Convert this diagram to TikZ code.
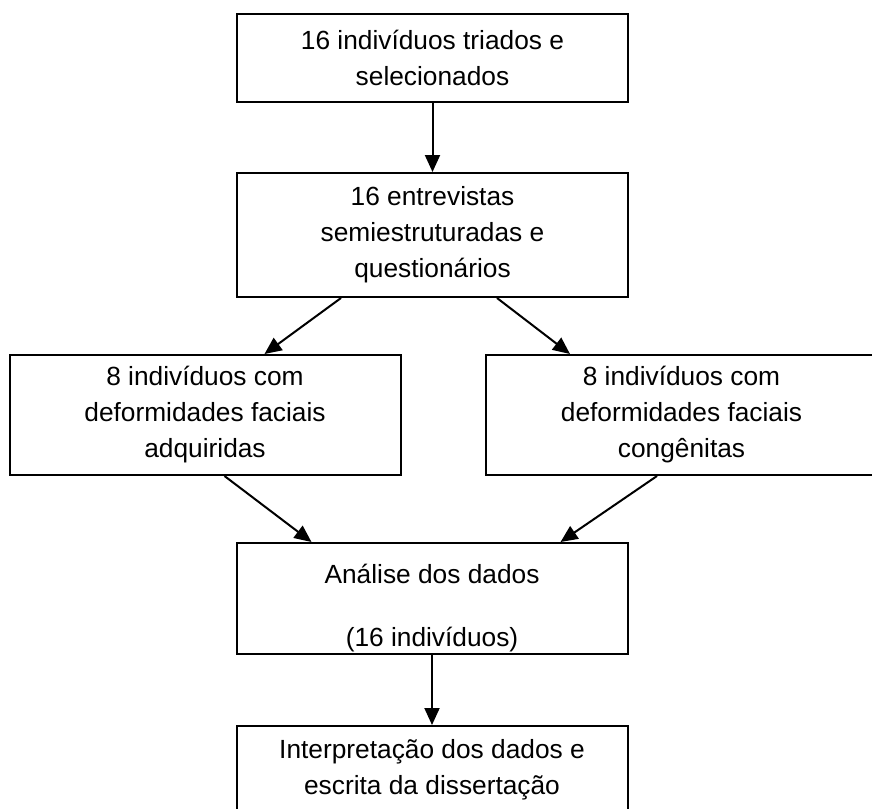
\documentclass[tikz,border=0pt]{standalone}
\usepackage{fontspec}
\setmainfont{Liberation Sans}
\usetikzlibrary{arrows.meta,calc}

\tikzset{%
  etapa/.style={
    rectangle,
    draw,
    line width=1pt,
    minimum width=195.5pt,
    align=center,
    font=\fontsize{13.15}{18}\selectfont
  },
  seta/.style={
    line width=1pt,
    -{Triangle[length=8.5pt,width=7.5pt]}
  },
}

\begin{document}
\begin{tikzpicture}[x=0.5pt,y=-0.5pt]
\useasboundingbox (0,0) rectangle (872,808);
\node[etapa,minimum height=44pt] (triagem) at (432.5,58) {16 indivíduos triados e\\selecionados};
\node[etapa,minimum height=62pt] (entrevistas) at (432.5,235) {16 entrevistas\\semiestruturadas e\\questionários};
\node[etapa,minimum height=60pt] (adquiridas) at (205,415) {8 indivíduos com\\deformidades faciais\\adquiridas};
\node[etapa,minimum height=60pt] (congenitas) at (681.5,415) {8 indivíduos com\\deformidades faciais\\congênitas};
\node[etapa,minimum height=55.5pt,inner ysep=0pt] (analise) at (432,598.5) {\rule{0pt}{19pt}Análise dos dados\\[13.5pt](16 indivíduos)};
\node[etapa,minimum height=44pt] (escrita) at (432,770) {Interpretação dos dados e\\escrita da dissertação};

\draw[seta] (triagem) -- (entrevistas);
\draw[seta] ($(entrevistas.south west)+(105,0)$) -- ($(adquiridas.north west)+(256,0)$);
\draw[seta] ($(entrevistas.south west)+(261,0)$) -- ($(congenitas.north west)+(85,0)$);
\draw[seta] ($(adquiridas.south west)+(216,0)$) -- ($(analise.north west)+(76,0)$);
\draw[seta] ($(congenitas.south west)+(172,0)$) -- ($(analise.north west)+(325,0)$);
\draw[seta] (analise) -- (escrita);
\end{tikzpicture}
\end{document}
